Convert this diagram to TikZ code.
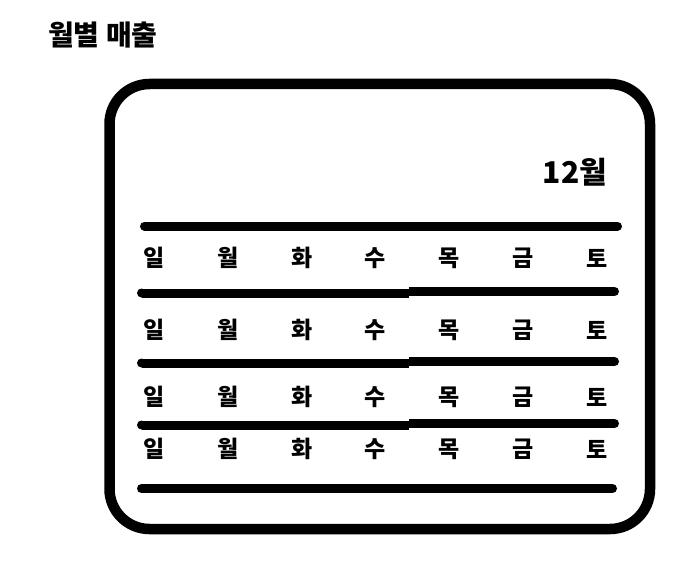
\documentclass[tikz,border=0pt]{standalone}
\usepackage{fontspec}
\setmainfont{Noto Sans CJK KR}
\begin{document}
\begin{tikzpicture}[x=1pt,y=-1pt,
  frame/.style={line width=10.5pt, rounded corners=40pt},
  bar/.style={line width=9pt, line cap=round},
  halfbar/.style={line width=9pt, line cap=butt},
  barend/.style={fill=black},
  day/.style={inner sep=0pt, font=\fontsize{23}{23}\selectfont\bfseries},
  monthlbl/.style={inner sep=0pt, font=\fontsize{30}{30}\selectfont\bfseries},
  titlelbl/.style={inner sep=0pt, anchor=west, font=\fontsize{28}{28}\selectfont\bfseries}]
\useasboundingbox (0,0) rectangle (695,564);
\fill[white] (0,0) rectangle (695,564);
% frame
\draw[frame] (109.5,84) rectangle (650,529);
% title
\node[titlelbl] (title) at (48,35) {월별 매출};
\node[monthlbl] (month) at (575,172) {12월};
% bars
\draw[bar] (144.5,226) -- (617.5,226);
\foreach \yy in {293,363,425}{
  \draw[halfbar] (141.5,\yy) -- (409,\yy);
  \fill[barend] (141.5,\yy) circle[radius=4.5pt];
  \draw[halfbar] (409,\yy-1.5) -- (614.5,\yy-1.5);
  \fill[barend] (614.5,\yy-1.5) circle[radius=4.5pt];
}
\draw[bar] (141.5,488.5) -- (612.5,488.5);
% day labels
\foreach \r/\yy in {1/258,2/330,3/397,4/449}{
  \foreach \d [count=\i from 0] in {일,월,화,수,목,금,토}{
    \node[day] (d\r\i) at ({154+73.8*\i},\yy) {\d};
  }
}
\end{tikzpicture}
\end{document}
